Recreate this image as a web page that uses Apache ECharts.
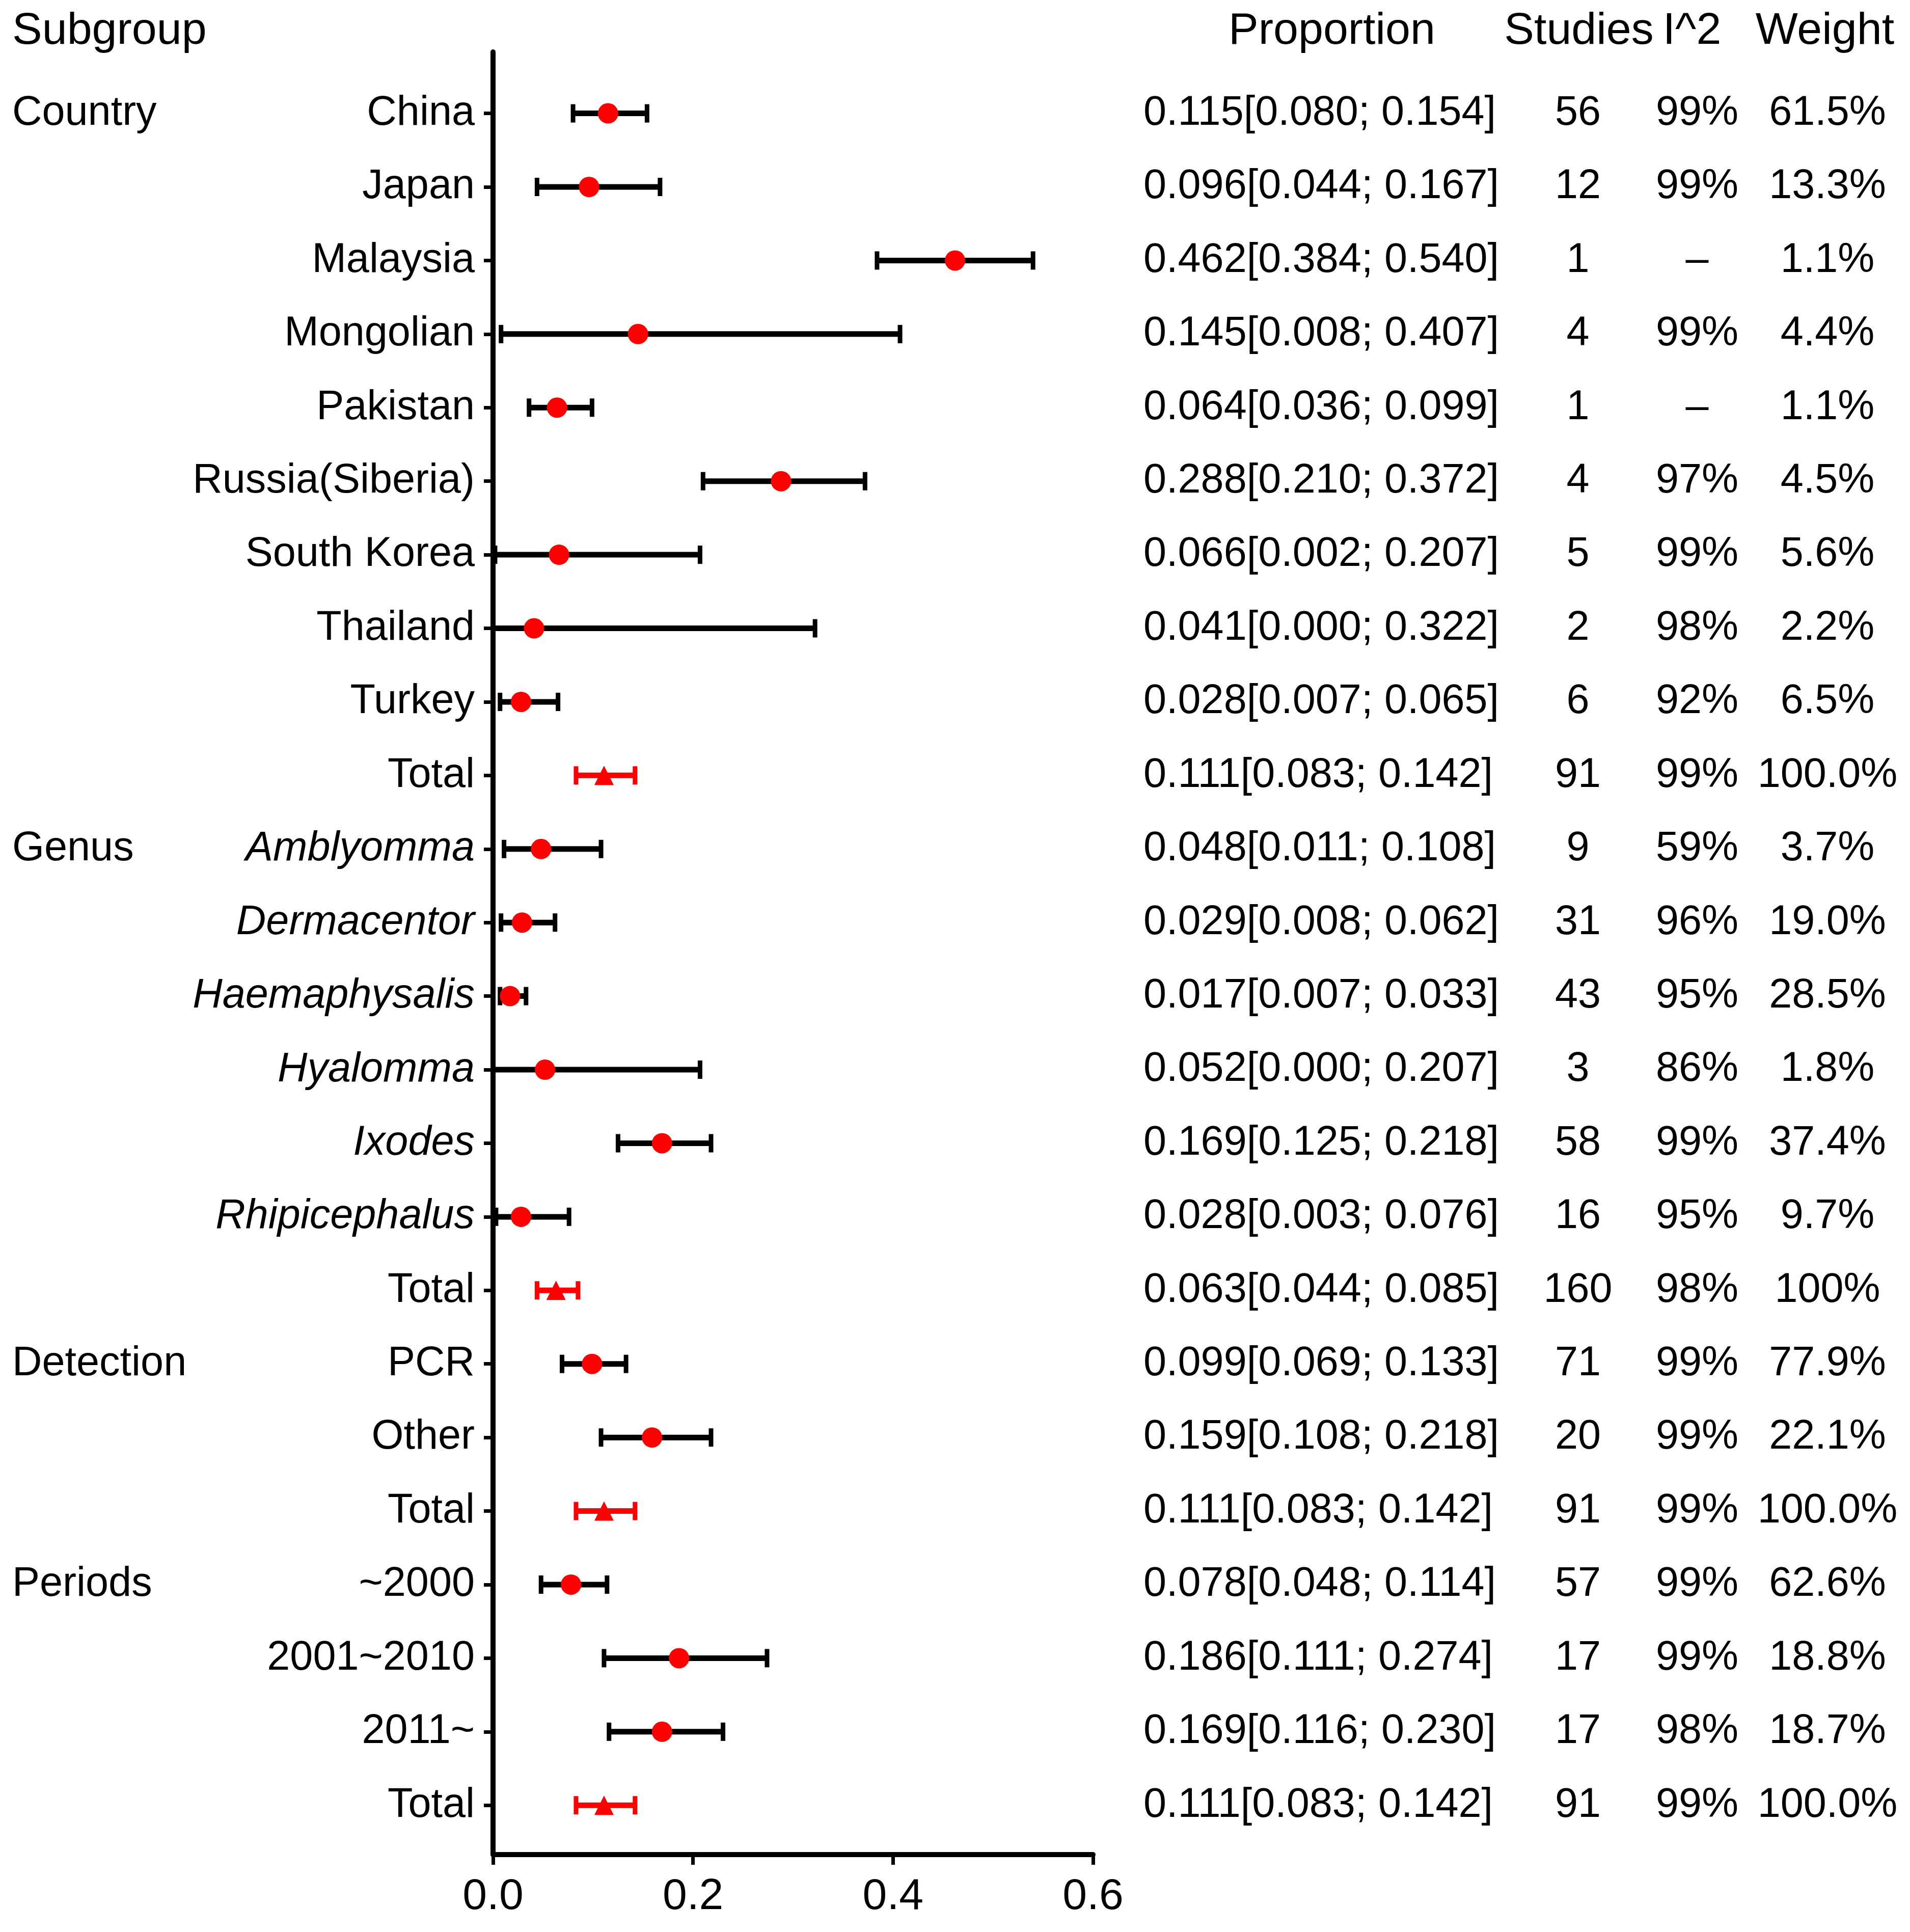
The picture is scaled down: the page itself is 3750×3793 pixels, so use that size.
<!DOCTYPE html>
<html><head><meta charset="utf-8">
<script src="https://cdn.jsdelivr.net/npm/echarts@6/dist/echarts.min.js"></script>
<style>html,body{margin:0;padding:0;background:#fff}#c{width:3750px;height:3793px}</style>
</head><body><div id="c"></div><script>
const labels = ['China','Japan','Malaysia','Mongolian','Pakistan','Russia(Siberia)','South Korea','Thailand','Turkey','Total',
  'Amblyomma','Dermacentor','Haemaphysalis','Hyalomma','Ixodes','Rhipicephalus','Total',
  'PCR','Other','Total','~2000','2001~2010','2011~','Total'];
const italicRows = [10,11,12,13,14,15];
const est   = [0.115,0.096,0.462,0.145,0.064,0.288,0.066,0.041,0.028,0.111,0.048,0.029,0.017,0.052,0.169,0.028,0.063,0.099,0.159,0.111,0.078,0.186,0.169,0.111];
const lower = [0.080,0.044,0.384,0.008,0.036,0.210,0.002,0.000,0.007,0.083,0.011,0.008,0.007,0.000,0.125,0.003,0.044,0.069,0.108,0.083,0.048,0.111,0.116,0.083];
const upper = [0.154,0.167,0.540,0.407,0.099,0.372,0.207,0.322,0.065,0.142,0.108,0.062,0.033,0.207,0.218,0.076,0.085,0.133,0.218,0.142,0.114,0.274,0.230,0.142];
const studies = ['56','12','1','4','1','4','5','2','6','91','9','31','43','3','58','16','160','71','20','91','57','17','17','91'];
const i2 = ['99%','99%','–','99%','–','97%','99%','98%','92%','99%','59%','96%','95%','86%','99%','95%','98%','99%','99%','99%','99%','99%','98%','99%'];
const weight = ['61.5%','13.3%','1.1%','4.4%','1.1%','4.5%','5.6%','2.2%','6.5%','100.0%','3.7%','19.0%','28.5%','1.8%','37.4%','9.7%','100%','77.9%','22.1%','100.0%','62.6%','18.8%','18.7%','100.0%'];
const groups = ['Country','Genus','Detection','Periods'];
const groupRows = [0,10,17,20];
const headers = ['Subgroup','Proportion','Studies','I^2','Weight'];
const xMin = 0, xMax = 0.6, xStep = 0.2;

const FONT = '"Liberation Sans", Arial, Helvetica, sans-serif';
const rows = labels.map((_, i) => i);
const isTotal = labels.map(l => l === 'Total');
const propText = rows.map(i => est[i].toFixed(3) + '[' + lower[i].toFixed(3) + '; ' + upper[i].toFixed(3) + ']');

function yBase(extra) {
  return Object.assign({
    type: 'value', inverse: true, min: -0.835, max: 23.67,
    splitLine: { show: false }, axisLine: { show: false }, axisTick: { show: false }
  }, extra);
}
function tableAxis(texts, margin, align) {
  return yBase({
    position: 'right',
    axisLabel: {
      customValues: rows, margin: margin, align: align,
      fontSize: 81, fontFamily: FONT, color: '#000',
      formatter: v => texts[Math.round(v)]
    }
  });
}

const chart = echarts.init(document.getElementById('c'));
chart.setOption({
  animation: false,
  backgroundColor: '#fff',
  grid: { left: 968, right: 1604, top: 102, bottom: 152, containLabel: false },
  xAxis: {
    type: 'value', min: xMin, max: xMax, interval: xStep,
    splitLine: { show: false },
    axisLine: { onZero: false, lineStyle: { color: '#000', width: 10 } },
    axisTick: { length: 20, lineStyle: { color: '#000', width: 7 } },
    axisLabel: { fontSize: 86, fontFamily: FONT, color: '#000', margin: 40, formatter: v => v.toFixed(1) }
  },
  yAxis: [
    yBase({
      position: 'left',
      axisLine: { show: true, onZero: false, lineStyle: { color: '#000', width: 10 } },
      axisTick: { show: true, customValues: rows, length: 18, lineStyle: { color: '#000', width: 7 } },
      axisLabel: {
        customValues: rows, margin: 36, fontSize: 81, fontFamily: FONT, color: '#000',
        formatter: v => { const i = Math.round(v); return italicRows.indexOf(i) >= 0 ? '{it|' + labels[i] + '}' : labels[i]; },
        rich: { it: { fontStyle: 'italic', fontSize: 81, fontFamily: FONT, color: '#000' } }
      }
    }),
    yBase({
      position: 'left',
      axisLabel: {
        customValues: groupRows, margin: 944, align: 'left', fontSize: 81, fontFamily: FONT, color: '#000',
        formatter: v => groups[groupRows.indexOf(Math.round(v))]
      }
    }),
    tableAxis(propText, 99, 'left'),
    tableAxis(studies, 952, 'center'),
    tableAxis(i2, 1186, 'center'),
    tableAxis(weight, 1442, 'center')
  ],
  graphic: headers.map((h, k) => ({
    type: 'text',
    x: [24, 2615, 3100, 3322, 3583][k], y: 62,
    style: { text: h, fontSize: 88, fontFamily: FONT, fill: '#000',
      align: k === 0 ? 'left' : 'center', verticalAlign: 'middle' }
  })),
  series: [
    {
      type: 'custom', yAxisIndex: 0,
      data: rows.map(i => [lower[i], upper[i], i]),
      renderItem: (params, api) => {
        const lo = api.coord([api.value(0), api.value(2)]);
        const hi = api.coord([api.value(1), api.value(2)]);
        const color = isTotal[api.value(2)] ? '#ff0000' : '#000';
        const h = 18;
        return {
          type: 'group',
          children: [
            { type: 'line', shape: { x1: lo[0], y1: lo[1], x2: hi[0], y2: hi[1] }, style: { stroke: color, lineWidth: 11 } },
            { type: 'line', shape: { x1: lo[0], y1: lo[1] - h, x2: lo[0], y2: lo[1] + h }, style: { stroke: color, lineWidth: 9 } },
            { type: 'line', shape: { x1: hi[0], y1: hi[1] - h, x2: hi[0], y2: hi[1] + h }, style: { stroke: color, lineWidth: 9 } }
          ]
        };
      },
      z: 2
    },
    {
      type: 'scatter', yAxisIndex: 0, z: 3,
      data: rows.filter(i => !isTotal[i]).map(i => [est[i], i]),
      symbol: 'circle', symbolSize: 40,
      itemStyle: { color: '#ff0000', opacity: 1 }
    },
    {
      type: 'scatter', yAxisIndex: 0, z: 3,
      data: rows.filter(i => isTotal[i]).map(i => [est[i], i]),
      symbol: 'triangle', symbolSize: 38,
      itemStyle: { color: '#ff0000', opacity: 1 }
    }
  ]
});
</script></body></html>
